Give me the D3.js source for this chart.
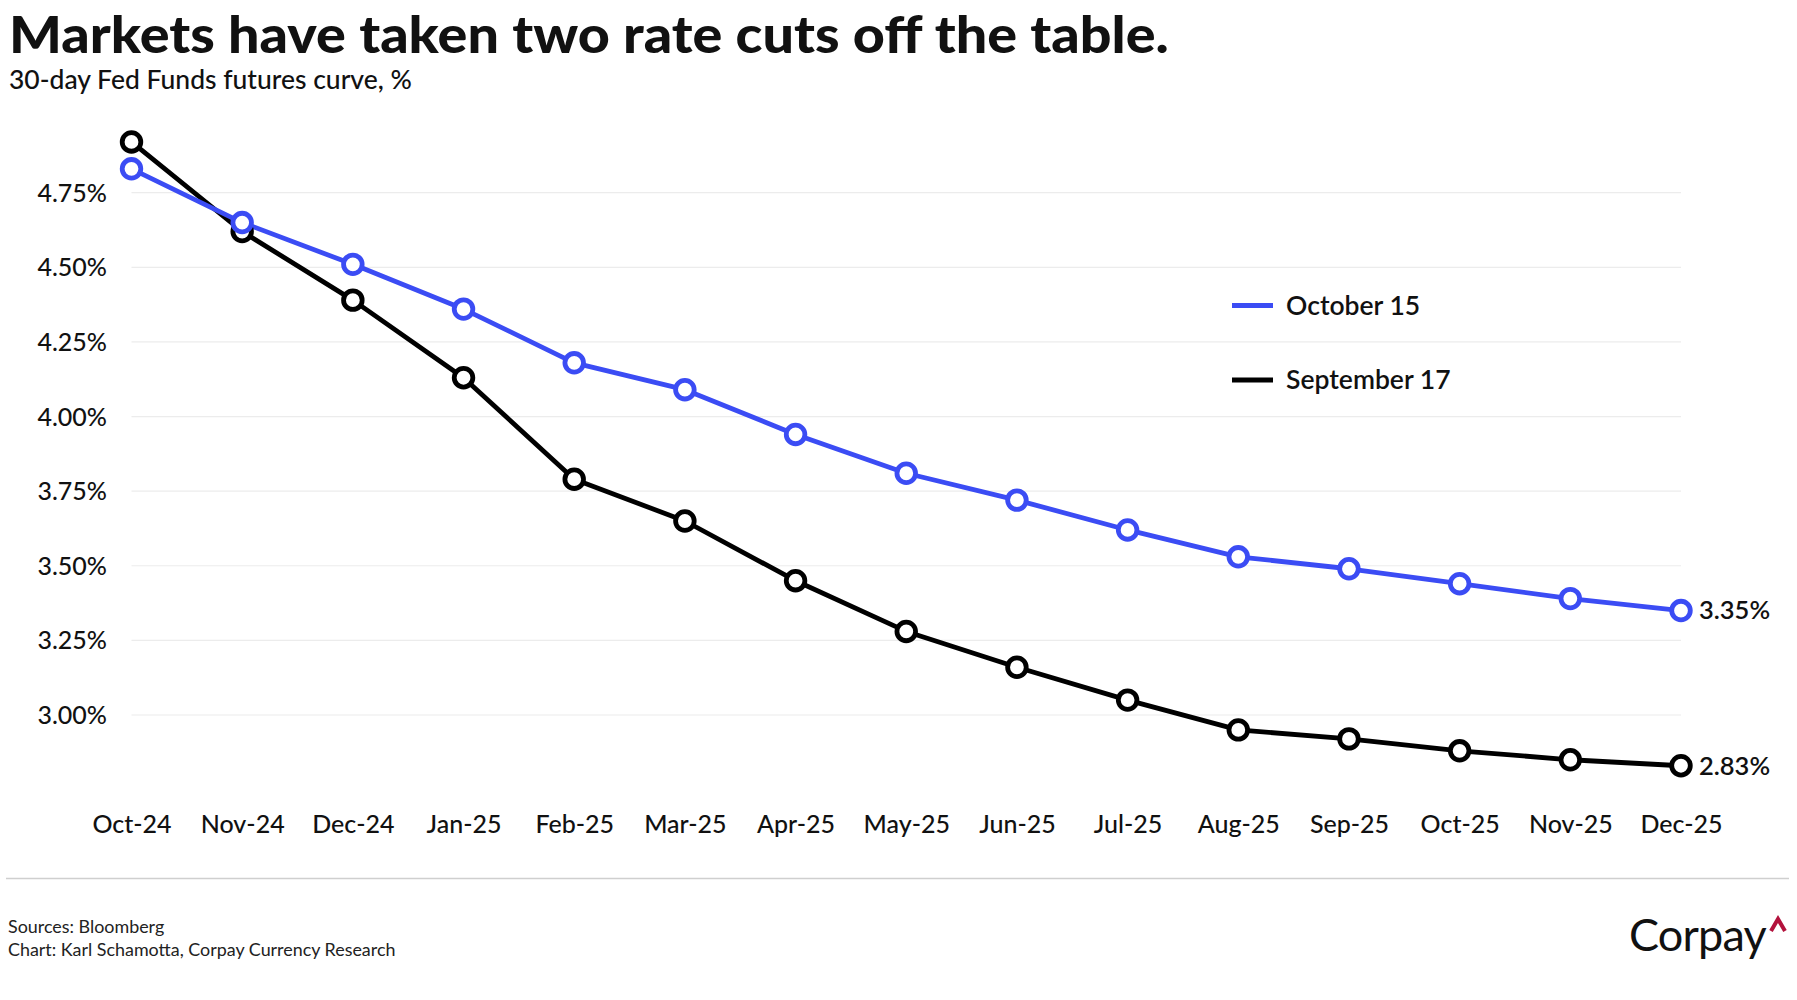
<!DOCTYPE html>
<html>
<head>
<meta charset="utf-8">
<script src="https://cdn.jsdelivr.net/npm/d3@7"></script>
<style>
  html, body { margin: 0; padding: 0; background: #fff; }
  svg { display: block; font-family: Lato, "Noto Sans", sans-serif; }
</style>
</head>
<body>
<svg id="chart" width="1797" height="1000"></svg>
<script>
// ---- data ----
const months = ["Oct-24","Nov-24","Dec-24","Jan-25","Feb-25","Mar-25","Apr-25","May-25","Jun-25","Jul-25","Aug-25","Sep-25","Oct-25","Nov-25","Dec-25"];
const october15 = [4.83, 4.65, 4.51, 4.36, 4.18, 4.09, 3.94, 3.81, 3.72, 3.62, 3.53, 3.49, 3.44, 3.39, 3.35];
const september17 = [4.92, 4.62, 4.39, 4.13, 3.79, 3.65, 3.45, 3.28, 3.16, 3.05, 2.95, 2.92, 2.88, 2.85, 2.83];
const yTicks = [3.00, 3.25, 3.50, 3.75, 4.00, 4.25, 4.50, 4.75];
const seriesNames = ["October 15", "September 17"];
const seriesColors = ["#3b4cf4", "#000000"];

const titleText = "Markets have taken two rate cuts off the table.";
const subtitleText = "30-day Fed Funds futures curve, %";
const sourceLines = ["Sources: Bloomberg", "Chart: Karl Schamotta, Corpay Currency Research"];

// ---- layout ----
const svg = d3.select("#chart");
const x = d3.scalePoint().domain(months).range([131.5, 1681]);
const y = d3.scaleLinear().domain([3.00, 4.75]).range([715, 192.7]);

// title (horizontally scaled to match the wide heavy face of the original)
const titleG = svg.append("g");
const title = titleG.append("text").attr("x", 0).attr("y", 0)
  .attr("font-size", 52).attr("font-weight", 900).attr("fill", "#111")
  .text(titleText);
const tw = title.node().getComputedTextLength();
titleG.attr("transform", `translate(9,52.5) scale(${1160 / tw},1)`);

const sub = svg.append("text").attr("x", 9).attr("y", 88.5)
  .attr("font-size", 24).attr("font-weight", 500).attr("fill", "#111")
  .text(subtitleText);
(function fit(el, target){ const w = el.node().getComputedTextLength(); el.attr("font-size", +el.attr("font-size") * target / w); })(sub, 403);

// gridlines
svg.append("g").selectAll("line").data(yTicks).join("line")
  .attr("x1", x(months[0])).attr("x2", x(months[months.length-1]))
  .attr("y1", d => y(d)).attr("y2", d => y(d))
  .attr("stroke", "#ececec").attr("stroke-width", 1.2);

// y axis
const yAxis = d3.axisLeft(y).tickValues(yTicks).tickSize(0).tickPadding(0)
  .tickFormat(d => d3.format(".2f")(d) + "%");
const gy = svg.append("g").attr("transform", "translate(107,0)").call(yAxis);
gy.select(".domain").remove();
gy.selectAll("text").attr("font-size", 25).attr("font-weight", 500).attr("fill", "#111")
  .attr("font-family", "Lato, 'Noto Sans', sans-serif").attr("dy", "0.34em");

// x axis
const xAxis = d3.axisBottom(x).tickSize(0).tickPadding(0);
const gx = svg.append("g").attr("transform", "translate(0,824)").call(xAxis);
gx.select(".domain").remove();
gx.selectAll("text").attr("font-size", 25).attr("font-weight", 500).attr("fill", "#111")
  .attr("font-family", "Lato, 'Noto Sans', sans-serif").attr("dy", "0.35em");

// series
const allSeries = [october15, september17];
const line = d3.line().x((d, i) => x(months[i])).y(d => y(d));
const order = [1, 0];
order.forEach(si => {
  svg.append("path").datum(allSeries[si]).attr("d", line)
    .attr("fill", "none").attr("stroke", seriesColors[si]).attr("stroke-width", 4.8)
    .attr("stroke-linejoin", "round");
});
order.forEach(si => {
  svg.append("g").selectAll("circle").data(allSeries[si]).join("circle")
    .attr("cx", (d, i) => x(months[i])).attr("cy", d => y(d)).attr("r", 9.3)
    .attr("fill", "#fff").attr("stroke", seriesColors[si]).attr("stroke-width", 4.8);
});

// end labels
allSeries.forEach((vals, si) => {
  const last = vals[vals.length - 1];
  svg.append("text").attr("x", x(months[months.length-1]) + 18).attr("y", y(last))
    .attr("dy", "0.35em").attr("font-size", 25.5).attr("font-weight", 600).attr("fill", "#111")
    .text(d3.format(".2f")(last) + "%");
});

// legend
const legend = svg.append("g");
seriesNames.forEach((name, i) => {
  const ly = 305.5 + i * 74.5;
  legend.append("line").attr("x1", 1232).attr("x2", 1273).attr("y1", ly).attr("y2", ly)
    .attr("stroke", seriesColors[i]).attr("stroke-width", 5);
  legend.append("text").attr("x", 1286).attr("y", ly).attr("dy", "0.35em")
    .attr("font-size", 26.5).attr("font-weight", 600).attr("fill", "#111").text(name);
});

// separator
svg.append("line").attr("x1", 6).attr("x2", 1789).attr("y1", 878.5).attr("y2", 878.5)
  .attr("stroke", "#cfcfcf").attr("stroke-width", 1.5);

// sources
sourceLines.forEach((t, i) => {
  svg.append("text").attr("x", 8).attr("y", 932.5 + i * 23.5)
    .attr("font-size", 17.9).attr("fill", "#222").text(t);
});

// logo
svg.append("text").attr("x", 1629).attr("y", 951).attr("font-size", 45)
  .attr("font-weight", 400).attr("fill", "#111").attr("letter-spacing", -0.8).text("Corpay");
svg.append("path").attr("d", "M1771,931 L1778,919 L1785,931")
  .attr("fill", "none").attr("stroke", "#b3123c").attr("stroke-width", 4);
</script>
</body>
</html>
